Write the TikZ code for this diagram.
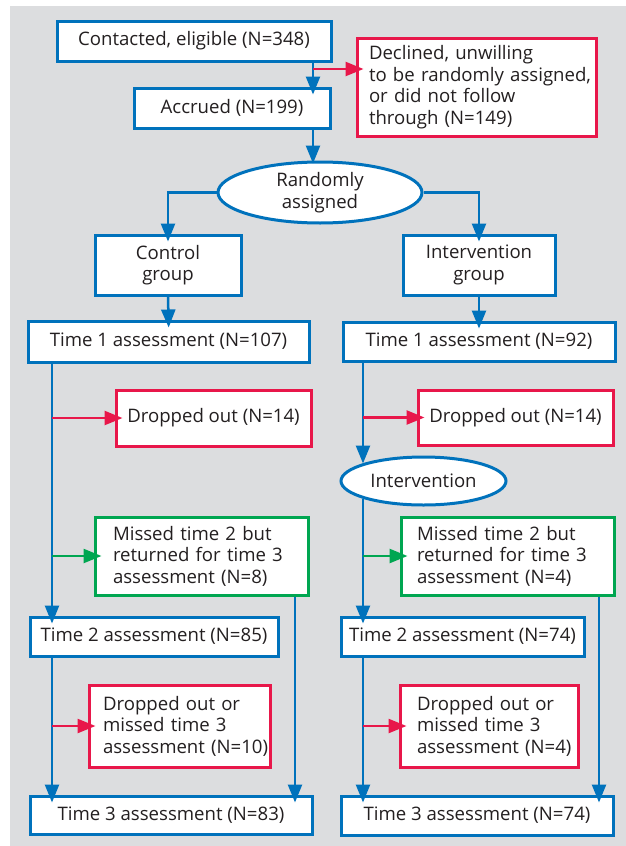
\documentclass[tikz,border=0pt]{standalone}
\usepackage{fontspec}
\setmainfont{Open Sans}
\usetikzlibrary{arrows.meta,shapes.geometric}
\definecolor{bblue}{RGB}{0,114,188}
\definecolor{rred}{RGB}{232,23,74}
\definecolor{ggreen}{RGB}{0,166,81}
\definecolor{bggray}{RGB}{220,221,223}
\definecolor{txtc}{RGB}{35,31,32}
\begin{document}
\begin{tikzpicture}[x=1pt,y=-1pt,
  every node/.style={font=\fontsize{18.6}{21.5}\selectfont, text=txtc},
  bx/.style={rectangle, line width=3pt, fill=white, inner sep=0pt, align=center},
  bbox/.style={bx, draw=bblue},
  rbox/.style={bx, draw=rred},
  gbox/.style={bx, draw=ggreen},
  ebox/.style={ellipse, draw=bblue, line width=3pt, fill=white, inner sep=0pt, align=center},
  sz/.style 2 args={minimum width=#1pt, minimum height=#2pt},
  lft/.style 2 args={align=left, inner xsep=#2pt, text width=#1pt},
  arr/.style={line width=2.5pt, -{Triangle[length=18pt,width=14pt]}, shorten >=-8pt},
  barr/.style={arr, draw=bblue},
  rarr/.style={arr, draw=rred},
  garr/.style={arr, draw=ggreen}]
\useasboundingbox (0,0) rectangle (626,846);
\fill[bggray] (10,6) rectangle (626,846);

% nodes
\node[bbox, sz={274}{40}] (contacted) at (194,41) {Contacted, eligible (N=348)};
\node[bbox, sz={196}{40}] (accrued) at (232,108) {Accrued (N=199)};
\node[rbox, sz={239}{98}, lft={215}{12}] (declined) at (476.5,87)
  {\mbox{Declined, unwilling}\\\mbox{to be randomly assigned,}\\\mbox{or did not follow}\\\mbox{through (N=149)}};
\node[ebox, sz={204}{61}] (rand) at (320,192.5) {Randomly\\assigned};
\node[bbox, sz={146}{60}] (control) at (168,265) {Control\\group};
\node[bbox, sz={152}{60}] (intgrp) at (479,265) {Intervention\\group};
\node[bbox, sz={281}{41}] (time1l) at (168.5,341.5) {Time 1 assessment (N=107)};
\node[bbox, sz={272}{39}] (time1r) at (479,341.5) {Time 1 assessment (N=92)};
\node[rbox, sz={195}{56}] (dropL) at (213.5,418) {Dropped out (N=14)};
\node[rbox, sz={195}{55}] (dropR) at (515.5,417.5) {Dropped out (N=14)};
\node[ebox, sz={165}{48}] (interv) at (423.5,481) {Intervention};
\node[gbox, sz={213}{78}, lft={177}{18}] (missL) at (201.5,556)
  {\mbox{Missed time 2 but}\\\mbox{returned for time 3}\\\mbox{assessment (N=8)}};
\node[gbox, sz={213}{78}, lft={181}{16}] (missR) at (507.5,556)
  {\mbox{Missed time 2 but}\\\mbox{returned for time 3}\\\mbox{assessment (N=4)}};
\node[bbox, sz={248}{39}] (time2l) at (154,636.5) {Time 2 assessment (N=85)};
\node[bbox, sz={243}{39}] (time2r) at (462.5,636.5) {Time 2 assessment (N=74)};
\node[rbox, sz={181}{82}, lft={153}{14}] (dmL) at (179.5,726)
  {\mbox{Dropped out or}\\\mbox{missed time 3}\\\mbox{assessment (N=10)}};
\node[rbox, sz={178}{82}, lft={144}{17}] (dmR) at (489,726)
  {\mbox{Dropped out or}\\\mbox{missed time 3}\\\mbox{assessment (N=4)}};
\node[bbox, sz={282}{38}] (time3l) at (171,815) {Time 3 assessment (N=83)};
\node[bbox, sz={272}{39}] (time3r) at (477,815.5) {Time 3 assessment (N=74)};

% trunk coordinates
\coordinate (tA) at (313,0);
\coordinate (rA) at (313,69);
\coordinate (tL) at (52,0);
\coordinate (tR) at (363,0);
\coordinate (gL) at (295,0);
\coordinate (gR) at (599,0);

% connectors
\draw[barr] (tA |- contacted.south) -- (tA |- accrued.north);
\draw[rarr] (rA) -- (rA -| declined.west);
\draw[barr, shorten >=-3pt] (tA |- accrued.south) -- (tA |- rand.north);
\draw[barr] (rand.west) -| (control.north);
\draw[barr] (rand.east) -| (intgrp.north);
\draw[barr] (control.south) -- (time1l.north);
\draw[barr] (intgrp.south) -- (time1r.north);

\draw[barr] (tL |- time1l.south) -- (tL |- time2l.north);
\draw[barr] (tL |- time2l.south) -- (tL |- time3l.north);
\draw[rarr] (tL |- dropL.west) -- (dropL.west);
\draw[garr] (tL |- missL.west) -- (missL.west);
\draw[rarr] (tL |- dmL.west) -- (dmL.west);
\draw[barr] (gL |- missL.south) -- (gL |- time3l.north);

\draw[barr] (tR |- time1r.south) -- (tR |- interv.north);
\draw[barr, shorten <=-8pt] (tR |- interv.south) -- (tR |- time2r.north);
\draw[barr] (tR |- time2r.south) -- (tR |- time3r.north);
\draw[rarr] (tR |- dropR.west) -- (dropR.west);
\draw[garr] (tR |- missR.west) -- (missR.west);
\draw[rarr] (tR |- dmR.west) -- (dmR.west);
\draw[barr] (gR |- missR.south) -- (gR |- time3r.north);
\end{tikzpicture}
\end{document}
